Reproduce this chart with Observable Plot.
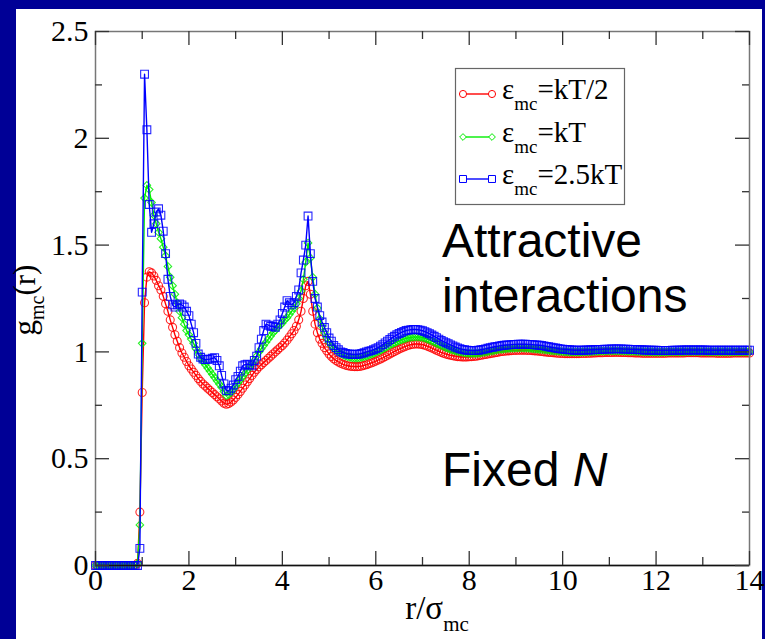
<!DOCTYPE html>
<html>
<head>
<meta charset="utf-8">
<script src="https://cdn.jsdelivr.net/npm/d3@7"></script>
<script src="https://cdn.jsdelivr.net/npm/@observablehq/plot@0.6"></script>
<style>
  html, body { margin: 0; padding: 0; }
  body { width: 765px; height: 639px; background: #000096; position: relative; overflow: hidden; }
  #panel { position: absolute; left: 16px; top: 9px; width: 746px; height: 630px; background: #ffffff; }
  #chart { position: absolute; left: 0; top: 0; }
</style>
</head>
<body>
<div id="panel"></div>
<div id="chart"></div>
<script>
// sampling grid r/sigma_mc: 0, 0.05, ..., 14
const rGrid = Array.from({length: 281}, (_, i) => Math.round(i * 5) / 100);

// g_mc(r) for eps_mc = kT/2 (red circles)
const gHalf = [
  0,0,0,0,0,0,0,0,0,0,
  0,0,0,0,0,0,0,0,0.01,0.25,
  0.81,1.23,1.35,1.375,1.37,1.355,1.335,1.31,1.29,1.26,
  1.225,1.19,1.15,1.115,1.08,1.05,1.02,0.995,0.975,0.955,
  0.935,0.92,0.905,0.89,0.875,0.862,0.85,0.84,0.83,0.82,
  0.81,0.80,0.79,0.78,0.77,0.76,0.755,0.758,0.765,0.775,
  0.787,0.80,0.815,0.83,0.845,0.86,0.875,0.89,0.905,0.918,
  0.93,0.94,0.95,0.96,0.97,0.98,0.99,1.0,1.01,1.02,
  1.03,1.042,1.055,1.07,1.085,1.10,1.12,1.15,1.19,1.25,
  1.31,1.33,1.27,1.19,1.13,1.09,1.06,1.04,1.02,1.005,
  0.99,0.978,0.968,0.96,0.953,0.947,0.942,0.938,0.935,0.933,
  0.932,0.931,0.931,0.932,0.934,0.937,0.94,0.944,0.948,0.952,
  0.957,0.962,0.967,0.972,0.978,0.984,0.99,0.996,1.002,1.008,
  1.013,1.018,1.023,1.027,1.031,1.034,1.036,1.037,1.037,1.036,
  1.034,1.031,1.027,1.023,1.018,1.013,1.008,1.003,0.998,0.994,
  0.99,0.987,0.984,0.982,0.98,0.978,0.977,0.976,0.976,0.976,
  0.977,0.978,0.979,0.98,0.982,0.984,0.986,0.988,0.99,0.992,
  0.994,0.996,0.998,1.0,1.002,1.003,1.004,1.005,1.006,1.007,
  1.007,1.008,1.008,1.008,1.008,1.007,1.007,1.006,1.005,1.004,
  1.003,1.002,1.0,0.999,0.998,0.997,0.996,0.995,0.994,0.993,
  0.993,0.992,0.992,0.992,0.992,0.992,0.992,0.992,0.993,0.993,
  0.993,0.994,0.994,0.995,0.995,0.996,0.996,0.996,0.997,0.997,
  0.997,0.997,0.998,0.998,0.998,0.997,0.997,0.997,0.996,0.996,
  0.996,0.995,0.995,0.995,0.994,0.994,0.994,0.994,0.994,0.994,
  0.994,0.994,0.994,0.994,0.994,0.995,0.995,0.995,0.995,0.995,
  0.995,0.995,0.995,0.996,0.996,0.996,0.996,0.996,0.996,0.995,
  0.995,0.995,0.995,0.995,0.995,0.995,0.994,0.994,0.994,0.994,
  0.994,0.994,0.994,0.995,0.995,0.995,0.995,0.995,0.995,0.995,
  0.995
];

// g_mc(r) for eps_mc = kT (green diamonds)
const gOne = [
  0,0,0,0,0,0,0,0,0,0,
  0,0,0,0,0,0,0,0,0.01,0.19,
  1.04,1.72,1.78,1.76,1.70,1.64,1.60,1.56,1.53,1.49,
  1.45,1.40,1.35,1.31,1.27,1.23,1.19,1.16,1.13,1.10,
  1.08,1.06,1.04,1.015,0.99,0.97,0.955,0.94,0.925,0.91,
  0.895,0.88,0.865,0.85,0.835,0.815,0.795,0.80,0.81,0.825,
  0.84,0.855,0.87,0.885,0.90,0.915,0.93,0.945,0.96,0.98,
  1.0,1.015,1.03,1.045,1.06,1.075,1.09,1.10,1.115,1.125,
  1.135,1.15,1.16,1.175,1.19,1.205,1.225,1.25,1.285,1.34,
  1.42,1.51,1.44,1.35,1.27,1.205,1.155,1.12,1.09,1.065,
  1.045,1.03,1.018,1.008,1.0,0.992,0.986,0.981,0.977,0.974,
  0.972,0.971,0.971,0.972,0.974,0.977,0.98,0.984,0.988,0.992,
  0.997,1.002,1.007,1.013,1.019,1.025,1.031,1.037,1.042,1.047,
  1.052,1.056,1.06,1.063,1.066,1.068,1.069,1.07,1.07,1.069,
  1.067,1.064,1.06,1.056,1.051,1.046,1.04,1.035,1.03,1.025,
  1.02,1.016,1.012,1.008,1.005,1.002,0.999,0.997,0.995,0.994,
  0.993,0.993,0.993,0.993,0.994,0.995,0.997,0.999,1.001,1.003,
  1.005,1.007,1.009,1.011,1.012,1.014,1.015,1.016,1.017,1.017,
  1.018,1.018,1.018,1.018,1.017,1.017,1.016,1.015,1.014,1.013,
  1.012,1.011,1.01,1.009,1.008,1.006,1.005,1.004,1.003,1.002,
  1.001,1.0,1.0,0.999,0.999,0.999,0.999,0.999,0.999,1.0,
  1.0,1.0,1.001,1.001,1.002,1.002,1.003,1.003,1.003,1.004,
  1.004,1.004,1.004,1.004,1.004,1.004,1.003,1.003,1.003,1.002,
  1.002,1.002,1.001,1.001,1.001,1.0,1.0,1.0,1.0,0.999,
  0.999,0.999,0.999,0.999,0.999,0.999,1.0,1.0,1.0,1.0,
  1.0,1.0,1.0,1.001,1.001,1.001,1.001,1.001,1.001,1.001,
  1.001,1.001,1.0,1.0,1.0,1.0,1.0,1.0,1.0,1.0,
  1.0,1.0,1.0,1.0,1.0,1.0,1.0,1.0,1.0,1.0,
  1.0
];

// g_mc(r) for eps_mc = 2.5kT (blue squares)
const gTwoHalf = [
  0,0,0,0,0,0,0,0,0,0,
  0,0,0,0,0,0,0,0,0,0.08,
  1.28,2.30,2.04,1.69,1.56,1.60,1.655,1.67,1.64,1.565,
  1.46,1.34,1.26,1.22,1.21,1.22,1.225,1.22,1.21,1.19,
  1.17,1.13,1.09,1.04,0.99,0.975,0.966,0.964,0.965,0.966,
  0.97,0.973,0.96,0.935,0.89,0.85,0.82,0.818,0.83,0.845,
  0.87,0.885,0.91,0.935,0.94,0.943,0.94,0.935,0.96,0.98,
  1.02,1.06,1.10,1.13,1.125,1.12,1.12,1.115,1.13,1.15,
  1.18,1.21,1.24,1.23,1.22,1.23,1.26,1.29,1.37,1.43,
  1.50,1.636,1.46,1.33,1.25,1.21,1.17,1.14,1.115,1.09,
  1.065,1.05,1.03,1.02,1.01,1.0,0.997,0.993,0.99,0.99,
  0.988,0.988,0.989,0.99,0.993,0.996,1.0,1.003,1.006,1.01,
  1.015,1.02,1.027,1.034,1.042,1.05,1.058,1.066,1.073,1.08,
  1.086,1.091,1.096,1.1,1.102,1.104,1.105,1.105,1.104,1.102,
  1.099,1.095,1.09,1.085,1.079,1.073,1.067,1.06,1.054,1.048,
  1.043,1.038,1.033,1.028,1.023,1.019,1.015,1.012,1.01,1.008,
  1.007,1.006,1.006,1.007,1.008,1.01,1.012,1.014,1.017,1.02,
  1.022,1.024,1.026,1.028,1.03,1.031,1.032,1.033,1.034,1.035,
  1.035,1.036,1.036,1.036,1.036,1.035,1.035,1.034,1.033,1.032,
  1.031,1.03,1.028,1.026,1.024,1.022,1.02,1.018,1.016,1.014,
  1.013,1.012,1.011,1.01,1.009,1.008,1.008,1.008,1.008,1.008,
  1.009,1.009,1.01,1.01,1.011,1.011,1.012,1.012,1.013,1.013,
  1.013,1.014,1.014,1.014,1.014,1.014,1.013,1.013,1.013,1.012,
  1.012,1.011,1.011,1.01,1.01,1.009,1.009,1.008,1.008,1.008,
  1.008,1.007,1.007,1.007,1.007,1.007,1.007,1.008,1.008,1.008,
  1.008,1.009,1.009,1.009,1.009,1.009,1.009,1.009,1.009,1.009,
  1.009,1.009,1.008,1.008,1.008,1.008,1.008,1.008,1.008,1.008,
  1.008,1.008,1.008,1.008,1.008,1.008,1.008,1.008,1.008,1.008,
  1.008
];

const xMajor = [0, 2, 4, 6, 8, 10, 12, 14];
const xMinor = [1, 3, 5, 7, 9, 11, 13];
const yMajor = [0, 0.5, 1, 1.5, 2, 2.5];
const yMinor = [0.25, 0.75, 1.25, 1.75, 2.25];

const seriesNames = ["kT/2", "kT", "2.5kT"];
const seriesColors = ["#ff0000", "#00ee00", "#0000ff"];
const seriesSymbols = ["circle", "diamond2", "square"];
const seriesR = [4, 3.4, 4.4];
const seriesValues = [gHalf, gOne, gTwoHalf];

const W = 765, H = 639;
const mL = 95, mR = 16, mT = 31, mB = 74;
const pw = W - mL - mR, ph = H - mT - mB;
const serif = "'Liberation Serif', 'Times New Roman', serif";
const sans = "'Liberation Sans', Arial, sans-serif";

const seriesMarks = [];
seriesValues.forEach((vals, k) => {
  const rows = rGrid.map((r, i) => ({r, g: vals[i]}));
  seriesMarks.push(Plot.line(rows, {x: "r", y: "g", stroke: seriesColors[k], strokeWidth: 1.4}));
  seriesMarks.push(Plot.dot(rows, {x: "r", y: "g", symbol: seriesSymbols[k], r: seriesR[k],
    stroke: seriesColors[k], fill: "none", strokeWidth: 1.1, strokeOpacity: 0.85}));
});

const tickColor = "#333";
const chart = Plot.plot({
  width: W, height: H,
  marginLeft: mL, marginRight: mR, marginTop: mT, marginBottom: mB,
  x: {domain: [0, 14]},
  y: {domain: [0, 2.5]},
  style: {background: "transparent", color: "black", fontFamily: serif, fontSize: "30px", overflow: "visible"},
  marks: [
    ...seriesMarks,
    Plot.frame({stroke: "#777", strokeWidth: 1.5}),
    Plot.ruleY([0], {stroke: "#111", strokeWidth: 1.5}),
    Plot.ruleX(xMajor, {insetTop: ph - 14, stroke: tickColor, strokeWidth: 1.3}),
    Plot.ruleX(xMinor, {insetTop: ph - 8, stroke: tickColor, strokeWidth: 1.3}),
    Plot.ruleX(xMajor, {insetBottom: ph - 14, stroke: tickColor, strokeWidth: 1.3}),
    Plot.ruleX(xMinor, {insetBottom: ph - 8, stroke: tickColor, strokeWidth: 1.3}),
    Plot.ruleY(yMajor, {insetRight: pw - 14, stroke: tickColor, strokeWidth: 1.3}),
    Plot.ruleY(yMinor, {insetRight: pw - 7, stroke: tickColor, strokeWidth: 1.3}),
    Plot.ruleY(yMajor, {insetLeft: pw - 14, stroke: tickColor, strokeWidth: 1.3}),
    Plot.ruleY(yMinor, {insetLeft: pw - 7, stroke: tickColor, strokeWidth: 1.3}),
    Plot.axisX({ticks: xMajor, tickSize: 0, tickPadding: 3, label: null, fontSize: 30, fontFamily: serif, tickFormat: d => String(d)}),
    Plot.axisY({ticks: yMajor, tickSize: 0, tickPadding: 7, label: null, fontSize: 30, fontFamily: serif, tickFormat: d => String(d)})
  ]
});
document.getElementById("chart").appendChild(chart);

const svg = d3.select(chart);

// Axis titles with subscripts
const xl = svg.append("text").attr("x", 437).attr("y", 619).attr("text-anchor", "middle")
  .style("font-family", serif).style("font-size", "33px").attr("fill", "black");
xl.append("tspan").text("r/σ");
xl.append("tspan").style("font-size", "21px").attr("dy", 12).text("mc");

const yl = svg.append("text").attr("transform", "translate(35,300) rotate(-90)").attr("text-anchor", "middle")
  .style("font-family", serif).style("font-size", "31px").attr("fill", "black");
yl.append("tspan").text("g");
yl.append("tspan").style("font-size", "20px").attr("dy", 9).text("mc");
yl.append("tspan").attr("dy", -9).text("(r)");

// Legend
const lg = svg.append("g").attr("text-anchor", "start");
lg.append("rect").attr("x", 455.5).attr("y", 68.5).attr("width", 169).attr("height", 136)
  .attr("fill", "white").attr("stroke", "#666").attr("stroke-width", 1.2);
const legendY = [94, 137, 179];
seriesNames.forEach((name, k) => {
  const y = legendY[k];
  lg.append("line").attr("x1", 463).attr("x2", 492).attr("y1", y).attr("y2", y)
    .attr("stroke", seriesColors[k]).attr("stroke-width", 1.4);
  const sym = d3.symbol().type(k === 0 ? d3.symbolCircle : k === 1 ? (d3.symbolDiamond2 || d3.symbolDiamond) : d3.symbolSquare)
    .size(Math.PI * seriesR[k] * seriesR[k] * 0.8);
  [463, 492].forEach(x => {
    lg.append("path").attr("d", sym()).attr("transform", `translate(${x},${y})`)
      .attr("fill", "white").attr("stroke", seriesColors[k]).attr("stroke-width", 1);
  });
  const t = lg.append("text").attr("x", 502).attr("y", y + 5).attr("text-anchor", "start")
    .style("font-family", serif).style("font-size", "29px").attr("fill", "black");
  t.append("tspan").text("ε");
  t.append("tspan").style("font-size", "19px").attr("dy", 11).text("mc");
  t.append("tspan").attr("dy", -11).text("=" + name);
});

// Annotations
const ann = svg.append("g").attr("text-anchor", "start")
  .style("font-family", sans).style("font-size", "48px").attr("fill", "black");
ann.append("text").attr("x", 442).attr("y", 257).text("Attractive");
ann.append("text").attr("x", 442).attr("y", 312).text("interactions");
const fx = ann.append("text").attr("x", 442).attr("y", 486);
fx.append("tspan").text("Fixed ");
fx.append("tspan").style("font-style", "italic").text("N");
</script>
</body>
</html>
